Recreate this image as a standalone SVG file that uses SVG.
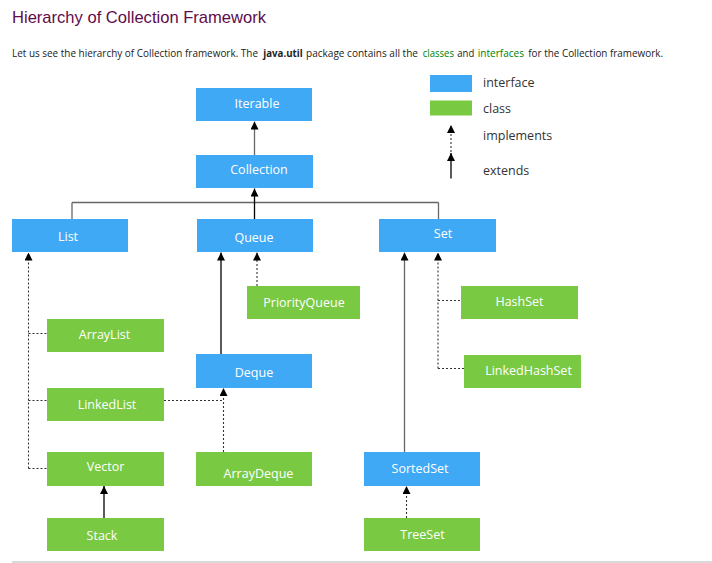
<svg xmlns="http://www.w3.org/2000/svg" width="712" height="563" viewBox="0 0 712 563">
<style>
.iface{fill:#3FA9F5}
.cls{fill:#7AC943}
.lbl{font-family:"Open Sans","Noto Sans",sans-serif;font-size:12.5px;fill:#fff;text-anchor:middle}
.leg{font-family:"Open Sans","Noto Sans",sans-serif;font-size:12.5px;fill:#333}
.para{font-family:"Open Sans","Noto Sans",sans-serif;font-size:10.3px;fill:#222}
.solid{stroke:#000;stroke-width:1.3;fill:none}
.gray{stroke:#666;stroke-width:1.3;fill:none}
.dot{stroke:#333;stroke-width:1.1;stroke-dasharray:2,2;fill:none}
</style>
<defs>
<marker id="ah" viewBox="0 0 8 8" refX="8" refY="4" markerWidth="8" markerHeight="8" markerUnits="userSpaceOnUse" orient="auto">
<path d="M0,0 L8,4 L0,8 z" fill="#000"/>
</marker>
</defs>
<rect width="712" height="563" fill="#fff"/>
<text x="12" y="23" font-family="'Liberation Sans',Arial,sans-serif" font-size="17" fill="#610B4B" textLength="254" lengthAdjust="spacingAndGlyphs">Hierarchy of Collection Framework</text>
<g id="intro">
<text class="para" x="12" y="57" textLength="246" lengthAdjust="spacingAndGlyphs">Let us see the hierarchy of Collection framework. The</text>
<text class="para" x="263.3" y="57" font-weight="bold" textLength="39.4" lengthAdjust="spacingAndGlyphs">java.util</text>
<text class="para" x="306" y="57" textLength="112" lengthAdjust="spacingAndGlyphs">package contains all the</text>
<text class="para" x="422.7" y="57" style="fill:#008000" textLength="31.3" lengthAdjust="spacingAndGlyphs">classes</text>
<text class="para" x="457.3" y="57" textLength="17" lengthAdjust="spacingAndGlyphs">and</text>
<text class="para" x="477.7" y="57" style="fill:#008000" textLength="46.3" lengthAdjust="spacingAndGlyphs">interfaces</text>
<text class="para" x="528.3" y="57" textLength="134.7" lengthAdjust="spacingAndGlyphs">for the Collection framework.</text>
</g>
<g id="legend">
<rect class="iface" x="430" y="75" width="42" height="17"/>
<rect class="cls" x="430" y="100.5" width="42" height="15"/>
<line class="dot" x1="451" y1="152" x2="451" y2="125" marker-end="url(#ah)"/>
<line class="solid" x1="451" y1="178.5" x2="451" y2="153" marker-end="url(#ah)"/>
<text class="leg" x="483" y="87">interface</text>
<text class="leg" x="483" y="112.5">class</text>
<text class="leg" x="483" y="140">implements</text>
<text class="leg" x="483" y="175">extends</text>
</g>
<g id="connectors">
<line class="gray" x1="254.5" y1="155" x2="254.5" y2="121.5" marker-end="url(#ah)"/>
<line class="gray" x1="72" y1="202.5" x2="438.5" y2="202.5"/>
<line class="gray" x1="72" y1="202.5" x2="72" y2="219"/>
<line class="gray" x1="438.5" y1="202.5" x2="438.5" y2="219"/>
<line class="solid" x1="254.5" y1="219" x2="254.5" y2="188.5" marker-end="url(#ah)"/>
<line class="solid" x1="221" y1="354" x2="221" y2="252.5" marker-end="url(#ah)"/>
<line class="dot" x1="257" y1="286" x2="257" y2="252.5" marker-end="url(#ah)"/>
<line class="dot" x1="28.5" y1="468.5" x2="28.5" y2="252.5" marker-end="url(#ah)"/>
<line class="dot" x1="28.5" y1="333.5" x2="47" y2="333.5"/>
<line class="dot" x1="28.5" y1="400.5" x2="47" y2="400.5"/>
<line class="dot" x1="28.5" y1="468.5" x2="47" y2="468.5"/>
<line class="dot" x1="164" y1="400.5" x2="223.5" y2="400.5"/>
<line class="dot" x1="223.5" y1="452" x2="223.5" y2="388" marker-end="url(#ah)"/>
<line class="gray" x1="404.5" y1="452" x2="404.5" y2="252.5" marker-end="url(#ah)"/>
<line class="dot" x1="438" y1="368.5" x2="438" y2="252.5" marker-end="url(#ah)"/>
<line class="dot" x1="438" y1="300.5" x2="461" y2="300.5"/>
<line class="dot" x1="438" y1="368.5" x2="464" y2="368.5"/>
<line class="solid" x1="104" y1="518" x2="104" y2="486" marker-end="url(#ah)"/>
<line class="dot" x1="406.5" y1="518" x2="406.5" y2="486" marker-end="url(#ah)"/>
</g>
<g id="Iterable"><rect class="iface" x="196" y="88" width="116" height="33"/><text class="lbl" x="257" y="107.5">Iterable</text></g>
<g id="Collection"><rect class="iface" x="196" y="155" width="117" height="33"/><text class="lbl" x="259" y="173.5">Collection</text></g>
<g id="List"><rect class="iface" x="12" y="219" width="116" height="33"/><text class="lbl" x="68" y="241">List</text></g>
<g id="Queue"><rect class="iface" x="197" y="219" width="116" height="33"/><text class="lbl" x="254" y="241.5">Queue</text></g>
<g id="Set"><rect class="iface" x="379" y="219" width="117" height="33"/><text class="lbl" x="443" y="238">Set</text></g>
<g id="PriorityQueue"><rect class="cls" x="247" y="286" width="113" height="33"/><text class="lbl" x="304" y="306.5">PriorityQueue</text></g>
<g id="ArrayList"><rect class="cls" x="47" y="319" width="117" height="33"/><text class="lbl" x="104.5" y="339">ArrayList</text></g>
<g id="Deque"><rect class="iface" x="196" y="354" width="116" height="34"/><text class="lbl" x="254" y="376.5">Deque</text></g>
<g id="LinkedList"><rect class="cls" x="47" y="388" width="117" height="33"/><text class="lbl" x="107" y="408.5">LinkedList</text></g>
<g id="HashSet"><rect class="cls" x="461" y="286" width="117" height="33"/><text class="lbl" x="519.5" y="305.5">HashSet</text></g>
<g id="LinkedHashSet"><rect class="cls" x="464" y="355" width="117" height="33"/><text class="lbl" x="528.5" y="375">LinkedHashSet</text></g>
<g id="Vector"><rect class="cls" x="47" y="452" width="117" height="34"/><text class="lbl" x="105.5" y="471">Vector</text></g>
<g id="ArrayDeque"><rect class="cls" x="196" y="452" width="116" height="34"/><text class="lbl" x="258.5" y="477.5">ArrayDeque</text></g>
<g id="Stack"><rect class="cls" x="47" y="518" width="117" height="33"/><text class="lbl" x="102" y="539.5">Stack</text></g>
<g id="SortedSet"><rect class="iface" x="364" y="452" width="116" height="34"/><text class="lbl" x="420" y="472.5">SortedSet</text></g>
<g id="TreeSet"><rect class="cls" x="364" y="518" width="116" height="33"/><text class="lbl" x="422.5" y="538.5">TreeSet</text></g>
<line x1="12" y1="562" x2="712" y2="562" stroke="#ccc" stroke-width="1.5"/>
</svg>
